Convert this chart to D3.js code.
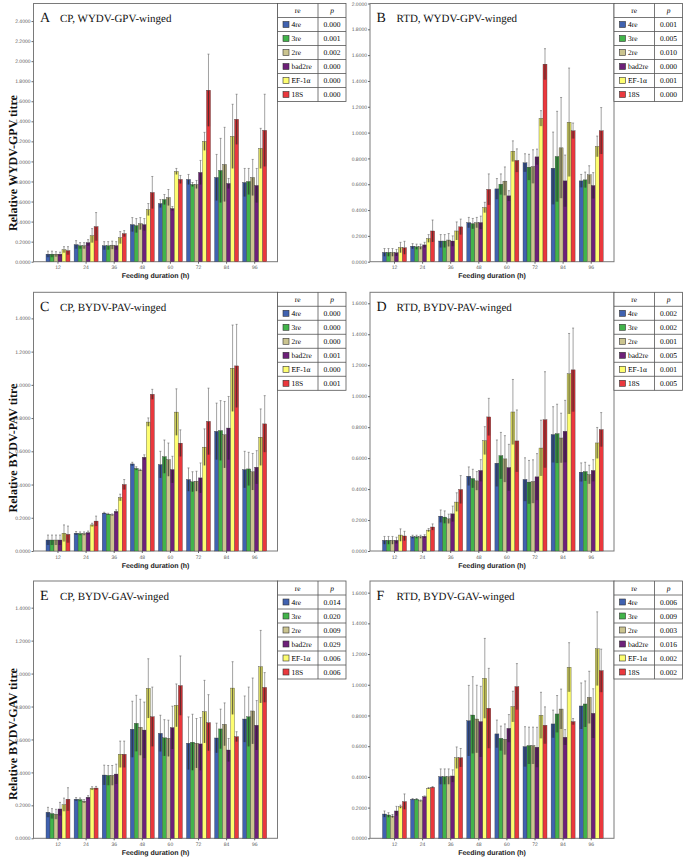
<!DOCTYPE html>
<html><head><meta charset="utf-8">
<script src="https://cdn.jsdelivr.net/npm/d3@7/dist/d3.min.js"></script>
<style>body{margin:0;background:#fff}svg{display:block}text{text-rendering:geometricPrecision}</style>
</head><body>
<script>
const categories = ["12","24","36","48","60","72","84","96"];
const series = ["4re","3re","2re","bad2re","EF-1\u03b1","18S"];
const colors = ["#4062b0","#42b44a","#cbc48f","#6e2079","#fdfd70","#ea383d"];

const A_mean = [[0.075,0.075,0.075,0.075,0.12,0.11],[0.17,0.16,0.16,0.19,0.26,0.35],[0.16,0.16,0.165,0.16,0.24,0.28],[0.37,0.36,0.38,0.37,0.52,0.69],[0.58,0.62,0.64,0.53,0.90,0.82],[0.82,0.77,0.77,0.89,1.20,1.71],[0.84,0.91,0.97,0.78,1.25,1.42],[0.79,0.80,0.84,0.76,1.13,1.31]];
const A_err = [[0.03,0.03,0.025,0.02,0.03,0.04],[0.04,0.03,0.03,0.03,0.07,0.14],[0.04,0.04,0.04,0.04,0.06,0.03],[0.07,0.07,0.06,0.06,0.06,0.16],[0.04,0.05,0.08,0.02,0.03,0.04],[0.05,0.02,0.04,0.12,0.09,0.36],[0.23,0.32,0.37,0.05,0.32,0.25],[0.14,0.13,0.18,0.17,0.20,0.36]];
const A_p = ["0.000","0.001","0.002","0.000","0.000","0.000"];

const B_mean = [[0.072,0.072,0.072,0.07,0.11,0.108],[0.12,0.116,0.116,0.13,0.18,0.238],[0.16,0.16,0.168,0.16,0.238,0.27],[0.303,0.295,0.303,0.303,0.42,0.56],[0.564,0.60,0.624,0.51,0.856,0.784],[0.766,0.732,0.737,0.812,1.11,1.53],[0.724,0.815,0.882,0.626,1.08,1.014],[0.626,0.634,0.673,0.59,0.893,1.014]];
const B_err = [[0.03,0.03,0.03,0.025,0.04,0.05],[0.02,0.02,0.02,0.02,0.03,0.085],[0.05,0.05,0.05,0.04,0.07,0.06],[0.04,0.04,0.04,0.05,0.04,0.12],[0.08,0.08,0.11,0.04,0.08,0.09],[0.07,0.10,0.13,0.06,0.06,0.12],[0.28,0.35,0.39,0.20,0.42,0.06],[0.05,0.06,0.07,0.10,0.08,0.18]];
const B_p = ["0.001","0.005","0.010","0.000","0.001","0.000"];

const C_mean = [[0.066,0.066,0.066,0.066,0.107,0.10],[0.107,0.105,0.105,0.11,0.157,0.18],[0.228,0.222,0.218,0.238,0.322,0.40],[0.524,0.497,0.487,0.564,0.776,0.943],[0.52,0.568,0.55,0.49,0.836,0.649],[0.43,0.417,0.42,0.44,0.625,0.78],[0.72,0.725,0.70,0.74,1.10,1.114],[0.49,0.494,0.477,0.504,0.685,0.765]];
const C_err = [[0.03,0.03,0.03,0.03,0.05,0.05],[0.01,0.01,0.01,0.01,0.01,0.03],[0.005,0.005,0.005,0.01,0.02,0.03],[0.01,0.01,0.005,0.015,0.025,0.03],[0.08,0.10,0.10,0.08,0.14,0.08],[0.07,0.06,0.06,0.09,0.11,0.2],[0.17,0.18,0.2,0.19,0.26,0.25],[0.11,0.10,0.11,0.10,0.17,0.17]];
const C_p = ["0.000","0.000","0.000","0.001","0.000","0.001"];

const D_mean = [[0.069,0.069,0.069,0.069,0.103,0.097],[0.092,0.092,0.092,0.095,0.135,0.155],[0.225,0.219,0.208,0.24,0.316,0.397],[0.483,0.468,0.453,0.52,0.713,0.866],[0.567,0.616,0.595,0.539,0.898,0.711],[0.462,0.445,0.449,0.479,0.665,0.848],[0.752,0.758,0.73,0.773,1.145,1.17],[0.509,0.513,0.494,0.52,0.698,0.784]];
const D_err = [[0.025,0.025,0.025,0.02,0.04,0.03],[0.01,0.01,0.01,0.01,0.01,0.02],[0.04,0.04,0.03,0.05,0.06,0.09],[0.06,0.06,0.06,0.07,0.09,0.12],[0.15,0.15,0.15,0.15,0.21,0.2],[0.14,0.14,0.14,0.15,0.18,0.31],[0.18,0.19,0.16,0.2,0.26,0.27],[0.06,0.06,0.06,0.07,0.10,0.11]];
const D_p = ["0.002","0.002","0.001","0.005","0.001","0.005"];

const E_mean = [[0.158,0.15,0.146,0.178,0.204,0.237],[0.237,0.235,0.225,0.249,0.303,0.305],[0.384,0.382,0.382,0.39,0.51,0.51],[0.662,0.698,0.674,0.657,0.91,0.738],[0.637,0.61,0.607,0.672,0.807,0.927],[0.577,0.583,0.577,0.573,0.769,0.702],[0.609,0.664,0.692,0.536,0.912,0.617],[0.724,0.738,0.773,0.686,1.042,0.916]];
const E_err = [[0.03,0.03,0.03,0.04,0.04,0.07],[0.01,0.01,0.01,0.01,0.01,0.01],[0.06,0.06,0.06,0.06,0.08,0.08],[0.17,0.17,0.17,0.17,0.18,0.18],[0.11,0.11,0.11,0.13,0.13,0.18],[0.16,0.17,0.15,0.16,0.19,0.17],[0.09,0.12,0.13,0.07,0.16,0.03],[0.14,0.18,0.2,0.15,0.22,0.09]];
const E_p = ["0.014","0.020","0.009","0.029","0.006","0.006"];

const F_mean = [[0.158,0.152,0.145,0.178,0.206,0.239],[0.254,0.254,0.245,0.271,0.326,0.332],[0.402,0.402,0.402,0.406,0.525,0.525],[0.766,0.803,0.777,0.76,1.042,0.847],[0.68,0.651,0.645,0.716,0.858,0.988],[0.597,0.604,0.604,0.593,0.801,0.736],[0.745,0.81,0.842,0.658,1.114,0.76],[0.862,0.875,0.918,0.814,1.235,1.092]];
const F_err = [[0.02,0.015,0.01,0.03,0.01,0.05],[0.005,0.005,0.005,0.005,0.005,0.005],[0.05,0.05,0.05,0.04,0.07,0.06],[0.23,0.25,0.22,0.23,0.26,0.26],[0.09,0.08,0.1,0.09,0.1,0.15],[0.13,0.12,0.12,0.13,0.15,0.12],[0.09,0.12,0.13,0.05,0.16,0.02],[0.15,0.15,0.17,0.16,0.24,0.14]];
const F_p = ["0.006","0.009","0.003","0.016","0.002","0.002"];

const letters = ["A","B","C","D","E","F"];
const titles = ["CP, WYDV-GPV-winged","RTD, WYDV-GPV-winged","CP, BYDV-PAV-winged","RTD, BYDV-PAV-winged","CP, BYDV-GAV-winged","RTD, BYDV-GAV-winged"];
const yTitles = ["Relative WYDV-GPV titre","Relative BYDV-PAV titre","Relative BYDV-GAV titre"];
const tickMax = [2.4, 2.0, 1.4, 1.6, 1.4, 1.6];
const axisMax = [2.575, 2.0, 1.557, 1.671, 1.562, 1.676];
const xTitle = "Feeding duration (h)";

const means = [A_mean,B_mean,C_mean,D_mean,E_mean,F_mean];
const errs = [A_err,B_err,C_err,D_err,E_err,F_err];
const pvals = [A_p,B_p,C_p,D_p,E_p,F_p];

const W = 686, H = 862;
const svg = d3.select("body").append("svg").attr("width", W).attr("height", H);
const serif = "'Liberation Serif','Times New Roman',serif";
const sans = "'Liberation Sans',Arial,sans-serif";

const colLeft = [33.5, 370], frameW = 244;
const rowTop = [3.5, 292.3, 581], rowBot = [261.7, 551, 838.3];
const yTitleY = [163, 448, 734];

for (let k = 0; k < 6; k++) {
  const col = k % 2, row = Math.floor(k / 2);
  const L = colLeft[col], R = L + frameW, T = rowTop[row], B = rowBot[row];
  const g = svg.append("g");
  const x = d3.scaleBand().domain(categories).range([L + 12.5, L + 233.2]).paddingInner(0.146).paddingOuter(0);
  const xs = d3.scaleBand().domain(series).range([0, x.bandwidth()]);
  const y = d3.scaleLinear().domain([0, axisMax[k]]).range([B, T]);

  g.append("rect").attr("x", L).attr("y", T).attr("width", R - L).attr("height", B - T)
    .attr("fill", "none").attr("stroke", "#7a7a7a").attr("stroke-width", 1);

  const ya = g.append("g").attr("transform", `translate(${L},0)`)
    .call(d3.axisLeft(y).tickValues(d3.range(0, tickMax[k] + 1e-6, 0.2)).tickFormat(d3.format(".4f")).tickSize(2).tickPadding(1));
  ya.select(".domain").remove();
  ya.selectAll("line").attr("stroke", "#666");
  ya.selectAll("text").attr("font-family", sans).attr("font-size", 5).attr("fill", "#555");

  const xa = g.append("g").attr("transform", `translate(0,${B})`)
    .call(d3.axisBottom(x).tickSize(2).tickPadding(2));
  xa.select(".domain").remove();
  xa.selectAll("line").attr("stroke", "#666");
  xa.selectAll("text").attr("font-family", sans).attr("font-size", 5).attr("fill", "#555");

  g.append("text").attr("x", (L + R) / 2).attr("y", B + 16.5).attr("text-anchor", "middle")
    .attr("font-family", sans).attr("font-weight", "bold").attr("font-size", 7).attr("fill", "#222").text(xTitle);

  if (col === 0) {
    g.append("text").attr("transform", `translate(17,${yTitleY[row]}) rotate(-90)`).attr("text-anchor", "middle")
      .attr("font-family", serif).attr("font-weight", "bold").attr("font-size", 12).attr("fill", "#111").text(yTitles[row]);
  }

  g.append("text").attr("x", L + 6.5).attr("y", T + 18.5).attr("font-family", serif).attr("font-size", 14).attr("fill", "#111").text(letters[k]);
  g.append("text").attr("x", L + 26.5).attr("y", T + 18.5).attr("font-family", serif).attr("font-size", 11).attr("fill", "#111").text(titles[k]);

  const cells = [];
  categories.forEach((c, i) => series.forEach((s, j) => cells.push({c, s, j, m: means[k][i][j], e: errs[k][i][j]})));
  const bars = g.append("g").selectAll("g").data(cells).join("g");
  bars.append("rect").attr("x", d => x(d.c) + xs(d.s)).attr("width", xs.bandwidth())
    .attr("y", d => y(d.m)).attr("height", d => y(0) - y(d.m))
    .attr("fill", d => colors[d.j]).attr("stroke", "#3a3a3a").attr("stroke-width", 0.35);
  bars.append("rect").attr("x", d => x(d.c) + xs(d.s) + 0.2).attr("width", xs.bandwidth() - 0.4)
    .attr("y", d => y(d.m)).attr("height", d => y(Math.max(0, d.m - d.e)) - y(d.m))
    .attr("fill", "#000").attr("opacity", 0.15);
  const cx = d => x(d.c) + xs(d.s) + xs.bandwidth() / 2;
  bars.append("line").attr("x1", cx).attr("x2", cx).attr("y1", d => y(d.m)).attr("y2", d => y(d.m + d.e))
    .attr("stroke", "#8a8a8a").attr("stroke-width", 0.8);
  bars.append("line").attr("x1", cx).attr("x2", cx).attr("y1", d => y(Math.max(0, d.m - d.e))).attr("y2", d => y(d.m))
    .attr("stroke", "#2a2a2a").attr("stroke-width", 0.7);
  bars.append("line").attr("x1", d => cx(d) - 1).attr("x2", d => cx(d) + 1).attr("y1", d => y(d.m + d.e)).attr("y2", d => y(d.m + d.e))
    .attr("stroke", "#666").attr("stroke-width", 0.6);

  const lg = g.append("g");
  const lx = R, lw = 68.5, ldiv = 40.5, rh = 14;
  lg.append("rect").attr("x", lx).attr("y", T).attr("width", lw).attr("height", rh * 7).attr("fill", "#fff").attr("stroke", "#555").attr("stroke-width", 0.8);
  lg.append("line").attr("x1", lx + ldiv).attr("x2", lx + ldiv).attr("y1", T).attr("y2", T + rh * 7).attr("stroke", "#555").attr("stroke-width", 0.8);
  for (let r = 1; r < 7; r++) lg.append("line").attr("x1", lx).attr("x2", lx + lw).attr("y1", T + rh * r).attr("y2", T + rh * r).attr("stroke", "#555").attr("stroke-width", 0.8);
  lg.append("text").attr("x", lx + ldiv / 2).attr("y", T + 9.5).attr("text-anchor", "middle").attr("font-family", serif).attr("font-size", 7.5).attr("fill", "#000").text("re");
  lg.append("text").attr("x", lx + ldiv + (lw - ldiv) / 2).attr("y", T + 9.5).attr("text-anchor", "middle").attr("font-family", serif).attr("font-style", "italic").attr("font-size", 7.5).attr("fill", "#000").text("p");
  const rows = lg.selectAll("g.r").data(series).join("g").attr("class", "r")
    .attr("transform", (d, i) => `translate(${lx},${T + rh * (i + 1)})`);
  rows.append("rect").attr("x", 5.5).attr("y", rh / 2 - 3).attr("width", 6).attr("height", 6)
    .attr("fill", (d, i) => colors[i]).attr("stroke", "#333").attr("stroke-width", 0.6);
  rows.append("text").attr("x", 14).attr("y", rh / 2 + 2.6).attr("font-family", serif).attr("font-size", 7.5).attr("fill", "#000").text(d => d);
  rows.append("text").attr("x", ldiv + (lw - ldiv) / 2).attr("y", rh / 2 + 2.6).attr("text-anchor", "middle").attr("font-family", serif).attr("font-size", 7.5).attr("fill", "#000").text((d, i) => pvals[k][i]);
}
</script>
</body></html>
